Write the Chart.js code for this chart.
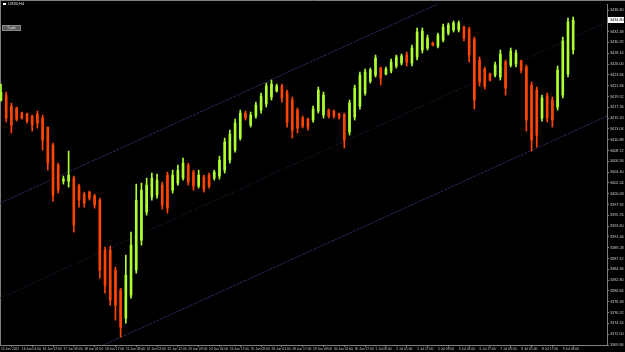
<!DOCTYPE html>
<html lang="en">
<head>
<meta charset="UTF-8">
<title>US30,H4</title>
<script src="https://cdn.jsdelivr.net/npm/chart.js"></script>
<style>
  html, body { margin: 0; padding: 0; background: #000; }
  #wrap { position: relative; width: 625px; height: 352px; background: #000; }
  #title { position: absolute; left: 3px; top: 1px; font: 4px "Liberation Sans", sans-serif; color: #e0e0e0; white-space: nowrap; }
  #title span { display: inline-block; width: 3px; height: 2px; background: #fff; margin-right: 2px; vertical-align: middle; }
  #trade { position: absolute; left: 2px; top: 25px; width: 19px; height: 6px; background: #5a5a5a; border: 1px solid #8a8a8a; box-sizing: border-box;
           font: 3.5px "Liberation Sans", sans-serif; color: #ddd; text-align: center; line-height: 4px; }
</style>
</head>
<body>
<div id="wrap">
  <canvas id="chart" width="625" height="352"></canvas>
  <div id="title"><span></span>US30,H4</div>
  <div id="trade">Trade</div>
</div>

<script>
  // H4 bars
  const opens = [3418.8, 3419.8, 3417.6, 3417.2, 3416.2, 3416.0, 3415.6, 3416.0, 3415.2, 3413.4,
    3409.8, 3405.8, 3402.6, 3402.6, 3403.2, 3401.6, 3400.0, 3400.4, 3399.6, 3398.8,
    3388.8, 3388.8, 3384.8, 3380.8, 3375.2, 3379.8, 3384.8, 3390.8, 3396.4, 3399.4,
    3399.8, 3401.8, 3403.8, 3400.8, 3402.2, 3403.2, 3405.8, 3404.4, 3401.6, 3403.4,
    3403.8, 3403.2, 3403.6, 3404.8, 3406.8, 3408.8, 3411.2, 3416.2, 3413.8, 3415.6,
    3416.8, 3418.0, 3419.4, 3420.6, 3421.6, 3420.4, 3418.8, 3416.8, 3415.2, 3415.0,
    3414.8, 3416.6, 3415.8, 3416.8, 3416.6, 3416.0, 3415.8, 3412.4, 3415.4, 3417.6,
    3420.2, 3422.6, 3423.8, 3425.2, 3424.0, 3424.6, 3425.6, 3426.2, 3427.8, 3426.2,
    3427.4, 3428.8, 3429.2, 3430.2, 3429.6, 3430.8, 3432.2, 3432.8, 3432.8, 3433.4,
    3433.0, 3431.0, 3426.8, 3425.0, 3424.0, 3423.8, 3423.4, 3426.4, 3425.8, 3426.0,
    3426.6, 3425.4, 3421.8, 3420.8, 3415.2, 3419.6, 3418.8, 3417.4, 3419.8, 3424.0, 3428.8];
  const highs = [3422.0, 3420.4, 3418.2, 3417.4, 3416.4, 3416.2, 3415.8, 3416.6, 3415.8, 3413.4,
    3410.2, 3406.2, 3403.6, 3408.6, 3403.6, 3402.0, 3400.4, 3400.6, 3400.0, 3399.2,
    3389.4, 3389.6, 3385.4, 3381.2, 3387.8, 3392.4, 3402.0, 3402.2, 3403.2, 3404.2,
    3404.0, 3402.4, 3404.4, 3404.8, 3405.8, 3407.2, 3406.2, 3404.8, 3404.8, 3403.8,
    3404.2, 3404.8, 3407.6, 3411.2, 3412.8, 3415.0, 3416.8, 3416.6, 3416.4, 3418.4,
    3420.2, 3422.2, 3422.8, 3422.0, 3422.0, 3420.8, 3419.4, 3417.2, 3415.6, 3415.2,
    3417.6, 3421.4, 3420.4, 3417.0, 3416.8, 3416.2, 3416.2, 3418.8, 3421.8, 3424.4,
    3425.0, 3425.2, 3427.8, 3425.4, 3425.4, 3427.0, 3427.8, 3428.0, 3428.4, 3429.8,
    3433.2, 3433.2, 3431.8, 3430.4, 3432.2, 3434.0, 3434.2, 3434.6, 3434.6, 3433.6,
    3433.4, 3431.4, 3427.4, 3425.4, 3424.2, 3426.4, 3428.8, 3426.8, 3429.2, 3428.8,
    3426.8, 3425.8, 3422.4, 3421.4, 3419.8, 3420.2, 3419.4, 3425.6, 3431.4, 3435.2, 3435.4];
  const lows = [3418.6, 3414.4, 3412.2, 3414.6, 3415.0, 3414.2, 3412.6, 3413.2, 3408.8, 3404.8,
    3398.6, 3400.2, 3402.0, 3401.4, 3392.4, 3397.4, 3397.4, 3398.8, 3397.2, 3383.2,
    3380.2, 3377.8, 3374.8, 3371.4, 3374.2, 3379.2, 3384.2, 3389.8, 3395.8, 3398.8,
    3399.2, 3397.0, 3396.2, 3400.2, 3401.8, 3402.8, 3401.8, 3400.8, 3401.2, 3400.4,
    3401.2, 3402.8, 3403.0, 3404.2, 3406.2, 3408.4, 3410.8, 3414.8, 3413.4, 3415.2,
    3416.2, 3417.4, 3418.8, 3420.4, 3418.4, 3413.4, 3411.2, 3412.2, 3413.2, 3412.8,
    3414.4, 3416.2, 3415.2, 3415.2, 3415.2, 3415.0, 3409.2, 3411.8, 3414.8, 3417.0,
    3419.8, 3422.2, 3423.4, 3421.8, 3423.8, 3424.2, 3425.2, 3425.8, 3425.6, 3425.6,
    3426.8, 3428.2, 3428.8, 3429.6, 3429.2, 3430.4, 3431.8, 3432.4, 3432.4, 3430.6,
    3426.4, 3417.0, 3421.6, 3421.0, 3422.6, 3423.4, 3422.8, 3419.8, 3425.4, 3425.4,
    3424.2, 3412.6, 3408.6, 3409.4, 3414.6, 3414.4, 3413.4, 3416.8, 3419.2, 3423.4, 3428.0];
  const closes = [3420.4, 3415.2, 3413.8, 3415.0, 3415.2, 3414.6, 3413.8, 3414.2, 3410.8, 3406.2,
    3399.8, 3400.8, 3403.0, 3403.8, 3393.8, 3398.8, 3398.2, 3399.2, 3397.8, 3384.8,
    3381.8, 3378.8, 3377.8, 3373.4, 3383.8, 3389.8, 3398.8, 3400.8, 3401.8, 3403.2,
    3402.8, 3397.8, 3397.2, 3403.8, 3404.8, 3406.2, 3402.4, 3401.6, 3403.8, 3401.0,
    3401.6, 3404.4, 3406.8, 3410.4, 3412.0, 3414.2, 3416.2, 3415.2, 3415.8, 3417.8,
    3419.6, 3421.6, 3422.0, 3421.6, 3419.2, 3414.4, 3412.8, 3413.2, 3413.6, 3413.4,
    3417.0, 3420.8, 3419.8, 3415.6, 3415.6, 3415.4, 3410.8, 3418.2, 3421.2, 3423.8,
    3424.4, 3424.8, 3427.2, 3423.2, 3425.0, 3426.4, 3427.4, 3427.6, 3426.4, 3429.2,
    3432.4, 3432.6, 3431.2, 3429.8, 3431.8, 3433.4, 3433.8, 3434.2, 3434.2, 3431.2,
    3427.8, 3418.8, 3422.4, 3421.6, 3422.8, 3425.8, 3428.0, 3421.2, 3428.6, 3428.2,
    3424.8, 3414.8, 3410.8, 3411.8, 3419.2, 3415.2, 3414.8, 3424.8, 3430.6, 3434.4, 3434.8];

  // one time label every 4 bars
  const timeLabels = ["15 Jun 2021", "16 Jun 01:00", "16 Jun 17:00", "17 Jun 09:00", "18 Jun 01:00", "18 Jun 17:00",
    "21 Jun 09:00", "22 Jun 01:00", "22 Jun 17:00", "23 Jun 09:00", "24 Jun 01:00", "24 Jun 17:00",
    "25 Jun 09:00", "28 Jun 01:00", "28 Jun 17:00", "29 Jun 09:00", "30 Jun 01:00", "30 Jun 17:00",
    "1 Jul 09:00", "2 Jul 01:00", "2 Jul 17:00", "5 Jul 09:00", "6 Jul 01:00", "6 Jul 17:00",
    "7 Jul 09:00", "8 Jul 01:00", "8 Jul 17:00", "9 Jul 09:00"];

  const priceTicks = [3436.80, 3434.64, 3432.48, 3430.32, 3428.16, 3426.00, 3423.84, 3421.68, 3419.52, 3417.36,
    3415.20, 3413.04, 3410.88, 3408.72, 3406.56, 3404.40, 3402.24, 3400.08, 3397.92, 3395.76,
    3393.60, 3391.44, 3389.28, 3387.12, 3384.96, 3382.80, 3380.64, 3378.48, 3376.32, 3374.16,
    3372.00, 3369.84];

  // equidistant channel, start and end of each line
  const channelX = [-0.19, 116.5];
  const channelUpper = [3398.2, 3453.4];
  const channelMiddle = [3379.2, 3434.4];
  const channelLower = [3360.4, 3415.6];

  const bullColor = "#adff2f";
  const bearColor = "#ff4500";
  const channelColor = "#2a2a62";

  const barColors = closes.map((c, i) => c >= opens[i] ? bullColor : bearColor);
  const lineData = ys => channelX.map((x, i) => ({ x: x, y: ys[i] }));

  const bgPlugin = {
    id: "bg",
    beforeDraw(chart) {
      const ctx = chart.ctx;
      ctx.save();
      ctx.fillStyle = "#000";
      ctx.fillRect(0, 0, chart.width, chart.height);
      ctx.strokeStyle = "#808080";
      ctx.lineWidth = 1;
      ctx.beginPath();
      ctx.moveTo(0, 0.5); ctx.lineTo(chart.width, 0.5);
      ctx.moveTo(0.5, 0); ctx.lineTo(0.5, chart.chartArea.bottom);
      ctx.stroke();
      ctx.restore();
    },
    afterDraw(chart) {
      // current price box on the price scale
      const ctx = chart.ctx;
      const y = chart.scales.y.getPixelForValue(closes[closes.length - 1]);
      const x = chart.chartArea.right + 1;
      ctx.save();
      ctx.fillStyle = "#fff";
      ctx.fillRect(x, Math.round(y) - 3, 16, 6);
      ctx.fillStyle = "#000";
      ctx.font = "3.8px 'Liberation Sans'";
      ctx.textBaseline = "middle";
      ctx.fillText(closes[closes.length - 1].toFixed(2), x + 2, Math.round(y));
      ctx.restore();
    }
  };

  new Chart(document.getElementById("chart"), {
    type: "bar",
    data: {
      datasets: [
        {
          label: "Body",
          data: opens.map((o, i) => ({ x: i, y: [o, closes[i]] })),
          backgroundColor: barColors,
          barThickness: 2,
          minBarLength: 1,
          grouped: false,
          order: 1
        },
        {
          label: "Wick",
          data: highs.map((h, i) => ({ x: i, y: [lows[i], h] })),
          backgroundColor: barColors,
          barThickness: 1,
          grouped: false,
          order: 2
        },
        { type: "line", data: lineData(channelUpper), borderColor: channelColor, borderWidth: 1, borderDash: [3, 1], pointRadius: 0, order: 3 },
        { type: "line", data: lineData(channelMiddle), borderColor: channelColor, borderWidth: 1, borderDash: [1, 2], pointRadius: 0, order: 3 },
        { type: "line", data: lineData(channelLower), borderColor: channelColor, borderWidth: 1, borderDash: [3, 1], pointRadius: 0, order: 3 }
      ]
    },
    options: {
      responsive: false,
      animation: false,
      layout: { padding: { top: 4, left: 0, right: 0, bottom: 0 } },
      plugins: { legend: { display: false }, tooltip: { enabled: false } },
      scales: {
        x: {
          type: "linear",
          min: -0.19,
          max: 116.5,
          offset: false,
          border: { display: true, color: "#808080" },
          grid: { drawOnChartArea: false, color: "#808080", tickLength: 2 },
          afterBuildTicks: s => { s.ticks = timeLabels.map((t, k) => ({ value: 4 * k })); },
          afterFit: s => { s.height = 7; },
          ticks: {
            autoSkip: false, maxRotation: 0, align: "start", padding: 0,
            color: "#c8c8c8", font: { family: "Liberation Sans", size: 3.3 },
            callback: v => timeLabels[Math.round(v / 4)]
          }
        },
        y: {
          position: "right",
          min: 3369.84,
          max: 3438.0,
          border: { display: true, color: "#808080" },
          grid: { drawOnChartArea: false, color: "#808080", tickLength: 2 },
          afterBuildTicks: s => { s.ticks = priceTicks.map(v => ({ value: v })); },
          afterFit: s => { s.width = 18; },
          ticks: {
            autoSkip: false, padding: 1,
            color: "#c8c8c8", font: { family: "Liberation Sans", size: 3.8 },
            callback: v => v.toFixed(2)
          }
        }
      }
    },
    plugins: [bgPlugin]
  });
</script>
</body>
</html>
